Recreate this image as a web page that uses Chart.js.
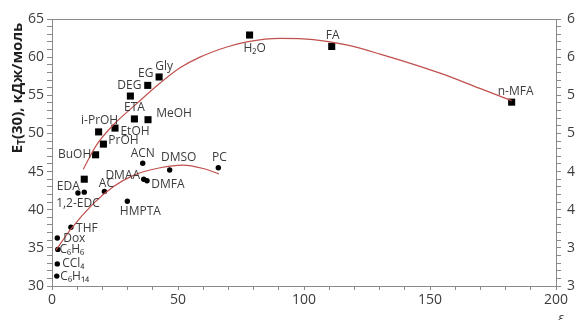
<!DOCTYPE html>
<html>
<head>
<meta charset="utf-8">
<script src="https://cdn.jsdelivr.net/npm/chart.js@4"></script>
<style>
  html, body { margin: 0; padding: 0; background: #fff; }
  canvas { display: block; }
</style>
</head>
<body>
<canvas id="c" width="575" height="320"></canvas>
<script>
// Protic solvents (squares): dielectric constant vs E_T(30)
const proticNames = ['H₂O', 'FA', 'n-MFA', 'Gly', 'EG', 'DEG', 'ETA', 'MeOH', 'EtOH', 'i-PrOH', 'PrOH', 'BuOH', ''];
const proticEps   = [78.4, 111.0, 182.4, 42.5, 38.0, 31.1, 32.7, 38.1, 25.0, 18.5, 20.4, 17.3, 12.8];
const proticEt    = [62.9, 61.4, 54.1, 57.4, 56.3, 54.9, 51.9, 51.8, 50.7, 50.2, 48.6, 47.2, 44.0];

// Aprotic solvents (circles)
const aproticNames = ['ACN', 'DMSO', 'PC', 'DMAA', 'DMFA', 'AC', 'HMPTA', 'EDA', '1,2-EDC', 'THF', 'Dox', 'C₆H₆', 'CCl₄', 'C₆H₁₄'];
const aproticEps   = [36.0, 46.7, 66.0, 36.4, 37.7, 20.8, 29.9, 12.8, 10.3, 7.5, 2.1, 2.3, 2.1, 1.9];
const aproticEt    = [46.1, 45.2, 45.5, 44.0, 43.8, 42.4, 41.1, 42.3, 42.2, 37.7, 36.3, 34.8, 32.9, 31.3];

// Trend curves
const upperCurveEps = [12.4, 17.7, 24.3, 33.6, 42.9, 50.8, 58.7, 70.0, 77.3, 90.5, 103.7, 116.9, 130.2, 154.0, 169.8, 182.4];
const upperCurveEt  = [45.3, 48.5, 51.1, 53.9, 56.6, 58.6, 60.0, 61.4, 62.0, 62.45, 62.3, 61.6, 60.4, 57.9, 55.9, 54.3];
const lowerCurveEps = [1.6, 7.1, 16.4, 24.3, 32.3, 42.9, 52.0, 60.0, 66.2];
const lowerCurveEt  = [34.7, 37.3, 40.8, 43.0, 44.5, 45.5, 45.85, 45.4, 44.7];

// Axis ticks
const xMajorTicks = [0, 50, 100, 150, 200];
const yMajorTicks = [30, 35, 40, 45, 50, 55, 60, 65];

// Label placement around each marker (pixels)
const labelOffsets = {
  'H₂O': [5, 14], 'FA': [1, -11], 'n-MFA': [4, -11], 'Gly': [5, -10], 'EG': [-2, -12],
  'DEG': [-1, -10], 'ETA': [0, -11], 'MeOH': [26, -6], 'EtOH': [20, 3], 'i-PrOH': [1, -11],
  'PrOH': [20, -4], 'BuOH': [-21, 0], 'ACN': [0, -10], 'DMSO': [9, -12], 'PC': [1, -10],
  'DMAA': [-21, -4], 'DMFA': [21, 4], 'AC': [2, -8], 'HMPTA': [13, 10], 'EDA': [-16, -6],
  '1,2-EDC': [0, 11], 'THF': [16, 1], 'Dox': [17, 1], 'C₆H₆': [14, 0], 'CCl₄': [16, 0], 'C₆H₁₄': [18, 0]
};

const toPoints = (xs, ys) => xs.map((x, i) => ({ x, y: ys[i] }));

const AXIS = '#8a8a8a';
const TEXT = '#3c3c3c';
const FONT = '"Open Sans", "DejaVu Sans", sans-serif';

const decorations = {
  id: 'decorations',
  beforeDatasetsDraw(chart) {
    const { ctx, chartArea } = chart;
    ctx.save();
    ctx.strokeStyle = AXIS;
    ctx.lineWidth = 1;
    ctx.beginPath();
    ctx.moveTo(chartArea.left, chartArea.top + 0.5);
    ctx.lineTo(chartArea.right, chartArea.top + 0.5);
    ctx.stroke();
    ctx.restore();
  },
  afterDatasetsDraw(chart) {
    const { ctx } = chart;
    ctx.save();
    ctx.fillStyle = TEXT;
    ctx.font = '12px ' + FONT;
    ctx.textAlign = 'center';
    ctx.textBaseline = 'middle';
    [[2, proticNames], [3, aproticNames]].forEach(([di, names]) => {
      const meta = chart.getDatasetMeta(di);
      meta.data.forEach((el, i) => {
        const name = names[i];
        if (!name) return;
        const off = labelOffsets[name] || [0, -10];
        ctx.fillText(name, el.x + off[0], el.y + off[1]);
      });
    });

    // y-axis title with subscript
    ctx.save();
    ctx.translate(18, 88);
    ctx.rotate(-Math.PI / 2);
    ctx.fillStyle = '#1e1e1e';
    ctx.textAlign = 'left';
    const big = 'bold 15px ' + FONT, small = 'bold 10px ' + FONT;
    const parts = [['E', big, 0], ['T', small, 4], ['(30), кДж/моль', big, 0]];
    let total = 0;
    const widths = parts.map(([t, f]) => { ctx.font = f; const w = ctx.measureText(t).width; total += w; return w; });
    let px = -total / 2;
    parts.forEach(([t, f, dy], i) => { ctx.font = f; ctx.fillText(t, px, dy); px += widths[i]; });
    ctx.restore();

    // x-axis title
    ctx.font = 'italic 13px ' + FONT;
    ctx.textAlign = 'center';
    ctx.textBaseline = 'top';
    ctx.fillStyle = TEXT;
    ctx.fillText('ε', chart.scales.x.getPixelForValue(200) + 5, 312);
    ctx.restore();
  }
};

const majorOnly = (majors) => (v) => majors.includes(v) ? String(v) : '';

const yAxisBase = (position, width, pad) => ({
  type: 'linear',
  position,
  min: 30, max: 65,
  afterFit: (s) => { s.width = width; },
  border: { display: true, color: AXIS, width: 1 },
  grid: { drawOnChartArea: false, drawTicks: true, tickLength: 5, color: AXIS, tickColor: AXIS },
  ticks: {
    stepSize: 1, autoSkip: false, padding: pad, color: TEXT,
    font: { family: FONT, size: 14 },
    callback: majorOnly(yMajorTicks)
  }
});

new Chart(document.getElementById('c'), {
  type: 'scatter',
  data: {
    datasets: [
      {
        data: toPoints(upperCurveEps, upperCurveEt), showLine: true, cubicInterpolationMode: 'monotone',
        borderColor: '#c0504d', borderWidth: 1.2, pointRadius: 0, fill: false, yAxisID: 'y'
      },
      {
        data: toPoints(lowerCurveEps, lowerCurveEt), showLine: true, cubicInterpolationMode: 'monotone',
        borderColor: '#c0504d', borderWidth: 1.2, pointRadius: 0, fill: false, yAxisID: 'y'
      },
      {
        data: toPoints(proticEps, proticEt), pointStyle: 'rect', pointRadius: 5,
        backgroundColor: '#000', borderColor: '#000', borderWidth: 0, yAxisID: 'y'
      },
      {
        data: toPoints(aproticEps, aproticEt), pointStyle: 'circle', pointRadius: 2.7,
        backgroundColor: '#000', borderColor: '#000', borderWidth: 0, yAxisID: 'y'
      }
    ]
  },
  options: {
    responsive: false,
    animation: false,
    layout: { padding: { top: 19, left: 0, right: 0, bottom: 0 } },
    plugins: { legend: { display: false }, tooltip: { enabled: false } },
    scales: {
      x: {
        type: 'linear', position: 'bottom', min: 0, max: 200,
        afterFit: (s) => { s.height = 34; },
        border: { display: true, color: AXIS, width: 1 },
        grid: { drawOnChartArea: false, drawTicks: true, tickLength: 4, color: AXIS, tickColor: AXIS },
        ticks: {
          stepSize: 10, autoSkip: false, maxRotation: 0, padding: 2, color: TEXT,
          font: { family: FONT, size: 14 },
          callback: majorOnly(xMajorTicks)
        }
      },
      y: yAxisBase('left', 52, 3),
      y2: yAxisBase('right', 19, 6)
    }
  },
  plugins: [decorations]
});
</script>
</body>
</html>
